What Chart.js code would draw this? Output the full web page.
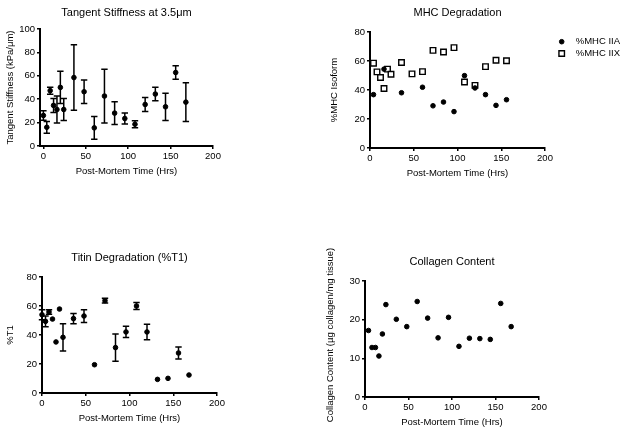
<!DOCTYPE html>
<html><head><meta charset="utf-8">
<script src="https://cdn.jsdelivr.net/npm/chart.js@4.4.1/dist/chart.umd.min.js"></script>
<style>
html,body{margin:0;padding:0;background:#fff;width:629px;height:434px;overflow:hidden}
canvas{position:absolute}
</style></head><body>
<canvas id="c1"></canvas><canvas id="c2"></canvas><canvas id="c3"></canvas><canvas id="c4"></canvas>
<script>
// ---------- data ----------
const xTickValues = [0, 50, 100, 150, 200];
const stiffTicks = [0, 20, 40, 60, 80, 100];
const mhcTicks = [0, 20, 40, 60, 80];
const titinTicks = [0, 20, 40, 60, 80];
const collagenTicks = [0, 10, 20, 30];

const stiffHours = [0, 4, 8, 12, 16, 20, 24, 36, 48, 60, 72, 84, 96, 108, 120, 132, 144, 156, 168];
const stiffness  = [26.1, 16.0, 47.3, 34.7, 31.2, 50.1, 31.2, 58.5, 46.4, 15.5, 42.7, 28.1, 23.5, 18.6, 35.5, 44.4, 33.5, 62.8, 37.5];
const stiffErr   = [4, 5, 3, 6, 11.5, 13.7, 9.5, 28, 10, 9.7, 23, 9.7, 4.6, 3, 6, 5.8, 11.6, 5.7, 16.6];

const mhcIIAHours = [4, 16, 36, 60, 72, 84, 96, 108, 120, 132, 144, 156];
const mhcIIA      = [36.8, 54.4, 38.1, 41.9, 29.1, 31.7, 25.1, 49.9, 41.4, 36.8, 29.4, 33.3];
const mhcIIXHours = [4, 8, 12, 16, 20, 24, 36, 48, 60, 72, 84, 96, 108, 120, 132, 144, 156];
const mhcIIX      = [58.5, 52.5, 48.6, 41.0, 54.4, 50.9, 59.0, 51.1, 52.7, 67.3, 66.2, 69.2, 45.5, 43.2, 56.1, 60.5, 60.2];

const titinHours = [0, 4, 8, 12, 16, 20, 24, 36, 48, 60, 72, 84, 96, 108, 120, 132, 144, 156, 168];
const titin      = [54.0, 49.4, 55.9, 51.0, 35.2, 57.9, 38.4, 51.3, 53.1, 19.5, 63.7, 31.3, 42.1, 60.0, 42.1, 9.4, 10.1, 27.6, 12.4];
const titinErr   = [3.5, 3.7, 1.6, null, null, null, 9.4, 3.6, 4.4, null, 1.7, 9.4, 3.9, 2.4, 5.3, null, null, 4.2, null];

const collagenHours = [4, 8, 12, 16, 20, 24, 36, 48, 60, 72, 84, 96, 108, 120, 132, 144, 156, 168];
const collagen      = [17.2, 12.8, 12.8, 10.6, 16.3, 23.9, 20.1, 18.2, 24.7, 20.4, 15.3, 20.6, 13.1, 15.2, 15.1, 14.9, 24.2, 18.2];

// ---------- styling ----------
const FAMILY = "'Liberation Sans', Arial, Helvetica, sans-serif";
const TITLE_SIZE = 11, AXIS_SIZE = 9.5, TICK_SIZE = 9.5;
const INK = '#000';

const pts = (xs, ys) => xs.map((x, i) => ({x, y: ys[i]}));

const dotStyle = {pointStyle: 'circle', pointRadius: 2.3, pointBorderWidth: 1, pointBackgroundColor: INK, pointBorderColor: INK, showLine: false};
const squareStyle = {pointStyle: 'rect', pointRadius: 3.9, pointBorderWidth: 1.4, pointBackgroundColor: '#fff', pointBorderColor: INK, showLine: false};

const errorBars = {
  id: 'errorBars',
  afterDatasetsDraw(chart) {
    const ctx = chart.ctx;
    chart.data.datasets.forEach((ds, di) => {
      if (!ds.errors) return;
      const meta = chart.getDatasetMeta(di);
      const ys = chart.scales[meta.yAxisID];
      ctx.save();
      ctx.strokeStyle = INK; ctx.lineWidth = 1.5;
      meta.data.forEach((el, i) => {
        const e = ds.errors[i];
        if (e == null) return;
        const v = ds.data[i].y;
        const top = ys.getPixelForValue(v + e), bot = ys.getPixelForValue(v - e);
        const x = el.x, cap = 3.2;
        ctx.beginPath();
        ctx.moveTo(x, top); ctx.lineTo(x, bot);
        ctx.moveTo(x - cap, top); ctx.lineTo(x + cap, top);
        ctx.moveTo(x - cap, bot); ctx.lineTo(x + cap, bot);
        ctx.stroke();
      });
      ctx.restore();
    });
  }
};

const sideLegend = {
  id: 'sideLegend',
  afterDraw(chart, args, opts) {
    if (!opts || opts.dx == null) return;
    const ctx = chart.ctx, ca = chart.chartArea;
    ctx.save();
    chart.data.datasets.forEach((ds, i) => {
      const x = ca.right + opts.dx, y = ca.top + opts.dy + i * opts.rowGap;
      ctx.fillStyle = ds.pointBackgroundColor;
      ctx.strokeStyle = ds.pointBorderColor;
      ctx.lineWidth = ds.pointBorderWidth;
      Chart.helpers.drawPoint(ctx, {pointStyle: ds.pointStyle, radius: ds.pointRadius, borderWidth: ds.pointBorderWidth, rotation: 0}, x, y);
      ctx.fillStyle = INK;
      ctx.font = TICK_SIZE + 'px ' + FAMILY;
      ctx.textBaseline = 'middle'; ctx.textAlign = 'left';
      ctx.fillText(ds.label, x + opts.textGap, y);
    });
    ctx.restore();
  }
};

// long rotated y-axis title that is allowed to run past the plot height
const longYTitle = {
  id: 'longYTitle',
  afterDraw(chart, args, opts) {
    if (!opts || !opts.text) return;
    const ctx = chart.ctx;
    ctx.save();
    ctx.translate(opts.x, opts.y);
    ctx.rotate(-Math.PI / 2);
    ctx.fillStyle = INK;
    ctx.font = AXIS_SIZE + 'px ' + FAMILY;
    ctx.textAlign = 'center'; ctx.textBaseline = 'middle';
    ctx.fillText(opts.text, 0, 0);
    ctx.restore();
  }
};

function makeChart(id, spec) {
  const g = spec.geo;
  const canvas = document.getElementById(id);
  canvas.width = g.cw; canvas.height = g.ch;
  Object.assign(canvas.style, {left: g.cx + 'px', top: g.cy + 'px', width: g.cw + 'px', height: g.ch + 'px'});
  const tLH = TITLE_SIZE * 1.2, aLH = AXIS_SIZE * 1.2;
  const padTop = g.titleY - g.cy - tLH / 2;
  const titlePadBottom = (g.t - g.cy) - padTop - tLH;
  const yWidth = g.l - g.cx;
  const yTitlePad = (g.yTitleX - g.cx) - aLH / 2;
  const xHeight = g.cy + g.ch - g.b;
  const xTitlePad = g.cy + g.ch - g.xTitleY - aLH / 2;
  const padRight = g.cx + g.cw - g.r;
  const axisCommon = {
    border: {display: true, color: INK, width: 2},
    grid: {display: true, drawOnChartArea: false, drawTicks: true, tickLength: 3, color: INK, lineWidth: 1.5},
    ticks: {color: INK, font: {family: FAMILY, size: TICK_SIZE}, padding: 2, maxRotation: 0, autoSkip: false},
  };
  const plugins = [errorBars];
  if (spec.legend) plugins.push(sideLegend);
  if (spec.longYTitle) plugins.push(longYTitle);
  return new Chart(canvas, {
    type: 'scatter',
    data: {datasets: spec.datasets},
    options: {
      responsive: false, animation: false, devicePixelRatio: 1,
      layout: {autoPadding: false, padding: {top: padTop, left: 0, right: padRight, bottom: 0}},
      plugins: {
        legend: {display: false},
        tooltip: {enabled: false},
        title: {display: true, text: spec.title, color: INK, fullSize: false,
                font: {family: FAMILY, size: TITLE_SIZE, weight: 'normal'}, padding: {top: 0, bottom: titlePadBottom}},
        sideLegend: spec.legend || {},
        longYTitle: spec.longYTitle ? {text: spec.yTitle, x: g.yTitleX - g.cx, y: spec.longYTitle.y - g.cy} : {}
      },
      scales: {
        x: Object.assign({}, axisCommon, {
          type: 'linear', min: spec.xMin, max: 200,
          afterBuildTicks: s => { s.ticks = xTickValues.map(v => ({value: v})); },
          afterFit: s => { s.height = xHeight; s.paddingLeft = 0; s.paddingRight = 0; },
          title: {display: true, text: 'Post-Mortem Time (Hrs)', color: INK,
                  font: {family: FAMILY, size: AXIS_SIZE}, padding: {top: 0, bottom: xTitlePad}}
        }),
        y: Object.assign({}, axisCommon, {
          type: 'linear', min: spec.yTicks[0], max: spec.yTicks[spec.yTicks.length - 1],
          afterBuildTicks: s => { s.ticks = spec.yTicks.map(v => ({value: v})); },
          afterFit: s => { s.width = yWidth; s.paddingTop = 0; s.paddingBottom = 0; },
          title: {display: !spec.longYTitle, text: spec.yTitle, color: INK,
                  font: {family: FAMILY, size: AXIS_SIZE}, padding: {top: yTitlePad, bottom: 0}}
        })
      }
    },
    plugins
  });
}

makeChart('c1', {
  title: 'Tangent Stiffness at 3.5μm', yTitle: 'Tangent Stiffness (kPa/μm)', xMin: -4, yTicks: stiffTicks,
  geo: {cx: 0, cy: 0, cw: 229, ch: 190, l: 40, r: 213, t: 29, b: 146, titleY: 13, xTitleY: 171, yTitleX: 10},
  datasets: [Object.assign({label: 'Tangent Stiffness', data: pts(stiffHours, stiffness), errors: stiffErr, clip: false}, dotStyle)]
});

makeChart('c2', {
  title: 'MHC Degradation', yTitle: '%MHC Isoform', xMin: 0, yTicks: mhcTicks,
  geo: {cx: 322, cy: 0, cw: 307, ch: 190, l: 370, r: 545, t: 32, b: 148, titleY: 13, xTitleY: 173, yTitleX: 334},
  legend: {dx: 16.7, dy: 9.7, rowGap: 11.8, textGap: 14},
  datasets: [
    Object.assign({label: '%MHC IIA', data: pts(mhcIIAHours, mhcIIA), clip: false}, dotStyle),
    Object.assign({label: '%MHC IIX', data: pts(mhcIIXHours, mhcIIX), clip: false}, squareStyle)
  ]
});

makeChart('c3', {
  title: 'Titin Degradation (%T1)', yTitle: '%T1', xMin: 0, yTicks: titinTicks,
  geo: {cx: 0, cy: 210, cw: 229, ch: 224, l: 42, r: 217, t: 277, b: 393, titleY: 258, xTitleY: 418, yTitleX: 10},
  datasets: [Object.assign({label: '%T1', data: pts(titinHours, titin), errors: titinErr, clip: false}, dotStyle)]
});

makeChart('c4', {
  title: 'Collagen Content', yTitle: 'Collagen Content (µg collagen/mg tissue)', xMin: 0, yTicks: collagenTicks,
  geo: {cx: 318, cy: 210, cw: 311, ch: 224, l: 365, r: 539, t: 281, b: 397, titleY: 262, xTitleY: 422, yTitleX: 330},
  longYTitle: {y: 335},
  datasets: [Object.assign({label: 'Collagen', data: pts(collagenHours, collagen), clip: false}, dotStyle)]
});
</script>
</body></html>
